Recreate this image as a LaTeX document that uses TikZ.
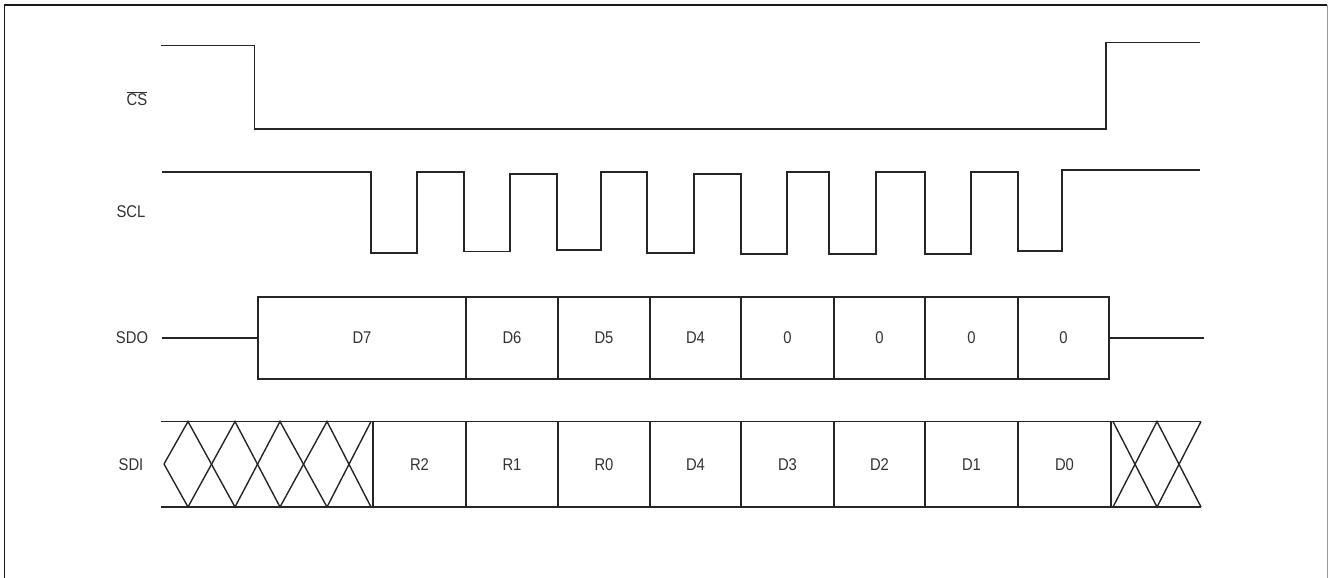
\documentclass[tikz,border=0pt]{standalone}
\usepackage{fontspec}
\setmainfont{Liberation Sans}[FakeStretch=0.87]
\begin{document}
\begin{tikzpicture}[x=1pt,y=-1pt,
  sig/.style={line width=1.4pt,draw=black!85,line join=miter},
  cell/.style={draw=black!85,line width=1.4pt,inner sep=0pt,font=\fontsize{17}{20}\selectfont,text=black!80},
  lbl/.style={inner sep=0pt,font=\fontsize{17}{20}\selectfont,text=black!80}]
\path[use as bounding box] (0,0) rectangle (1328,578);
% frame
\draw[line width=1.5pt,black!90] (4.5,578) -- (4.5,5) -- (1327,5);
\draw[line width=1pt,black!40] (1327,5) -- (1327,578);
% labels
\node[lbl] (lcs)  at (137,99) {$\overline{\mbox{CS}}$};
\node[lbl] (lscl) at (131,212) {SCL};
\node[lbl] (lsdo) at (132,338) {SDO};
\node[lbl] (lsdi) at (131,465) {SDI};
% CS
\draw[sig] (161,45.5) -- (254.5,45.5) -- (254.5,129) -- (1106,129) -- (1106,42.5) -- (1200,42.5);
% SCL
\draw[sig] (162,172) -- (371,172) -- (371,253) -- (417,253) -- (417,172)
  -- (464,172) -- (464,251.5) -- (510,251.5) -- (510,174) -- (557,174) -- (557,250)
  -- (601,250) -- (601,172) -- (647,172) -- (647,253) -- (694,253) -- (694,174)
  -- (741,174) -- (741,254) -- (787,254) -- (787,172) -- (829,172) -- (829,254)
  -- (876,254) -- (876,172) -- (925,172) -- (925,254) -- (971,254) -- (971,172)
  -- (1018,172) -- (1018,251) -- (1062,251) -- (1062,170) -- (1200,170);
% SDO
\foreach \n/\a/\b/\t in {o1/258/466/D7,o2/466/558/D6,o3/558/650/D5,o4/650/741/D4,
                         o5/741/834/0,o6/834/925/0,o7/925/1018/0,o8/1018/1109/0}{
  \node[cell,minimum width=\b-\a,minimum height=82] (\n) at ({(\a+\b)/2},338) {\t};
}
\coordinate (sdoL) at (162,338);
\coordinate (sdoR) at (1204,338);
\draw[sig] (sdoL) -- (o1.west);
\draw[sig] (o8.east) -- (sdoR);
% SDI
\coordinate (sdiTL) at (161,421.5);
\coordinate (sdiTR) at (1201,421.5);
\coordinate (sdiBL) at (161,507);
\coordinate (sdiBR) at (1201,507);
\foreach \n/\a/\b/\t in {i1/373/466/R2,i2/466/558/R1,i3/558/650/R0,i4/650/741/D4,
                         i5/741/834/D3,i6/834/925/D2,i7/925/1018/D1,i8/1018/1111/D0}{
  \node[cell,minimum width=\b-\a,minimum height=85.5] (\n) at ({(\a+\b)/2},464.25) {\t};
}
\draw[sig] (sdiTL) -- (sdiTR);
\draw[sig] (sdiBL) -- (sdiBR);
\draw[sig] (164,464) -- (188,421.5) -- (235,507) -- (280,421.5) -- (327,507) -- (371,421.5);
\draw[sig] (164,464) -- (188,507) -- (235,421.5) -- (280,507) -- (327,421.5) -- (371,507);
\draw[sig] (1113,507) -- (1157,421.5) -- (1201,507);
\draw[sig] (1113,421.5) -- (1157,507) -- (1201,421.5);
\end{tikzpicture}
\end{document}
